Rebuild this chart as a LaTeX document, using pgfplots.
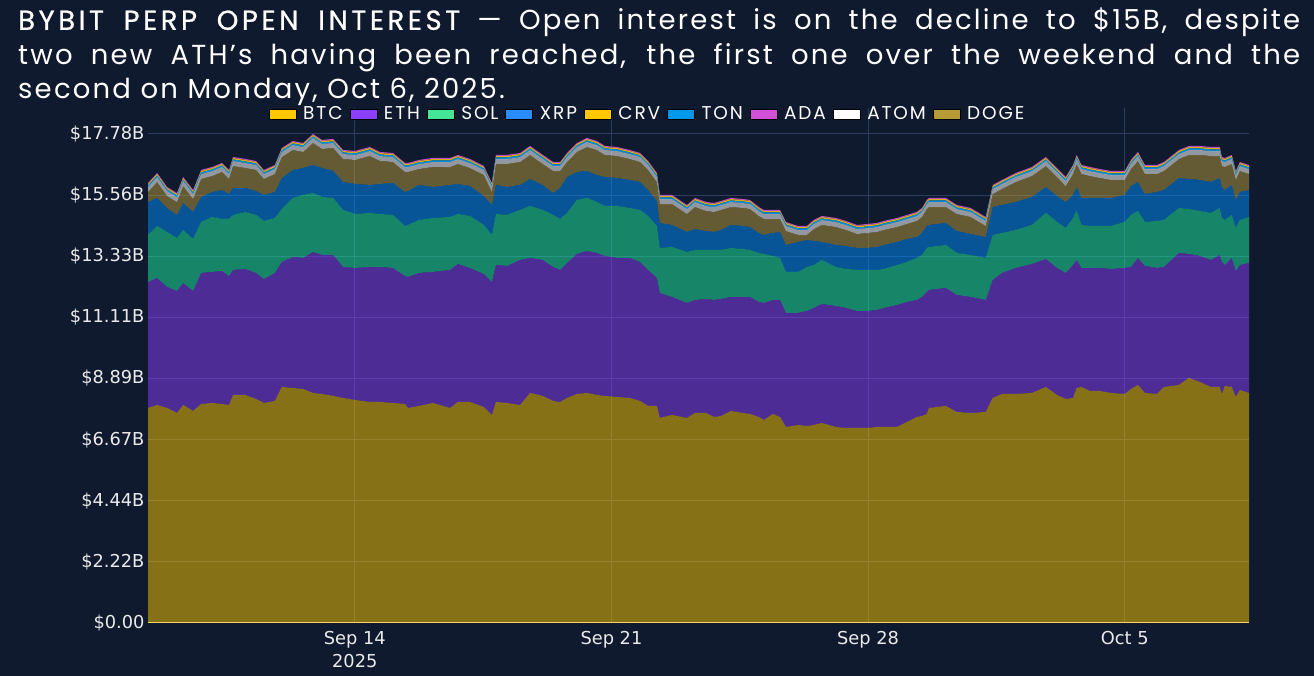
\documentclass[border=0pt]{standalone}
\usepackage{fontspec}
\usepackage{pgfplots}
\usepackage{pgfplotstable}
\pgfplotsset{compat=1.18}
\setmainfont{Poppins}
\newfontfamily\titlefont[LetterSpace=8]{Poppins}
\newfontfamily\headfont[LetterSpace=13,FakeBold=0.8]{Poppins}
\newfontfamily\legfont[LetterSpace=10]{Poppins}
\newfontfamily\tickfont{DejaVu Sans}
\definecolor{bg}{HTML}{0F1A2E}
\definecolor{gridc}{HTML}{2C3D60}
\definecolor{tickc}{HTML}{EAEAEA}
\definecolor{zeroc}{HTML}{EDE8CC}
\definecolor{btcc}{HTML}{FFC800}
\definecolor{ethc}{HTML}{8A3FFC}
\definecolor{ethf}{HTML}{8D3EFF}
\definecolor{solc}{HTML}{45E695}
\definecolor{solf}{HTML}{1FF0A0}
\definecolor{xrpc}{HTML}{2A8CFF}
\definecolor{xrpf}{HTML}{0090FF}
\definecolor{crvc}{HTML}{FFC800}
\definecolor{tonc}{HTML}{0098EA}
\definecolor{adac}{HTML}{D050D8}
\definecolor{atomc}{HTML}{FFFFFF}
\definecolor{dogec}{HTML}{B59A35}
\definecolor{dogef}{HTML}{B99A3A}

\pgfplotstableread{
x btc eth sol xrp doge atom ton crv ada
8.36 7.818 4.582 1.709 1.200 0.361 0.18 0.06 0.05 0.04
8.61 7.927 4.618 1.891 1.018 0.579 0.18 0.06 0.05 0.04
8.88 7.818 4.400 2.000 0.873 0.434 0.18 0.06 0.05 0.04
9.15 7.636 4.436 1.927 0.836 0.470 0.18 0.06 0.05 0.04
9.32 7.927 4.436 1.927 0.982 0.615 0.18 0.06 0.05 0.04
9.59 7.709 4.364 1.891 0.982 0.470 0.18 0.06 0.05 0.04
9.81 7.964 4.764 1.855 0.909 0.652 0.18 0.06 0.05 0.04
10.11 8.000 4.764 2.000 0.909 0.579 0.18 0.06 0.05 0.04
10.38 7.964 4.836 1.891 1.055 0.652 0.18 0.06 0.05 0.04
10.57 7.927 4.691 2.073 0.909 0.543 0.18 0.06 0.05 0.04
10.68 8.291 4.545 2.000 0.982 0.797 0.18 0.06 0.05 0.04
11.01 8.291 4.582 2.073 0.873 0.725 0.18 0.06 0.05 0.04
11.31 8.145 4.582 2.109 0.873 0.761 0.18 0.06 0.05 0.04
11.52 8.000 4.509 2.109 0.945 0.579 0.18 0.06 0.05 0.04
11.82 8.073 4.655 2.000 0.945 0.652 0.18 0.06 0.05 0.04
12.01 8.582 4.545 1.927 1.127 0.761 0.18 0.06 0.05 0.04
12.31 8.545 4.764 2.145 1.018 0.725 0.18 0.06 0.05 0.04
12.59 8.509 4.764 2.291 0.982 0.579 0.18 0.06 0.05 0.04
12.86 8.364 5.127 2.145 1.018 0.797 0.18 0.06 0.05 0.04
13.11 8.327 5.055 2.109 1.055 0.688 0.18 0.06 0.05 0.04
13.41 8.255 5.127 2.073 0.982 0.834 0.18 0.06 0.05 0.04
13.68 8.182 4.764 2.073 1.018 0.834 0.18 0.06 0.05 0.04
14.01 8.109 4.800 1.964 1.091 0.870 0.18 0.06 0.05 0.04
14.41 8.036 4.909 1.964 1.018 1.052 0.18 0.06 0.05 0.04
14.69 8.036 4.909 1.927 1.091 0.834 0.18 0.06 0.05 0.04
15.04 8.000 4.909 1.927 1.164 0.761 0.18 0.06 0.05 0.04
15.37 7.964 4.655 1.818 1.236 0.725 0.18 0.06 0.05 0.04
15.45 7.818 4.764 1.891 1.236 0.688 0.18 0.06 0.05 0.04
15.75 7.891 4.836 1.927 1.273 0.579 0.18 0.06 0.05 0.04
16.13 8.000 4.764 1.964 1.127 0.725 0.18 0.06 0.05 0.04
16.60 7.818 5.018 1.927 1.164 0.652 0.18 0.06 0.05 0.04
16.81 8.036 5.018 1.818 1.091 0.725 0.18 0.06 0.05 0.04
17.14 8.036 4.873 1.891 1.091 0.652 0.18 0.06 0.05 0.04
17.52 7.855 4.836 1.782 1.055 0.761 0.18 0.06 0.05 0.04
17.74 7.564 4.836 1.709 1.091 0.470 0.18 0.06 0.05 0.04
17.85 8.036 4.982 1.855 1.055 0.761 0.18 0.06 0.05 0.04
18.15 8.000 4.982 1.855 1.018 0.834 0.18 0.06 0.05 0.04
18.51 7.927 5.273 1.818 0.909 0.834 0.18 0.06 0.05 0.04
18.78 8.364 4.909 1.891 0.982 0.870 0.18 0.06 0.05 0.04
19.13 8.255 4.945 1.818 0.909 0.761 0.18 0.06 0.05 0.04
19.41 8.073 4.873 1.891 0.800 0.797 0.18 0.06 0.05 0.04
19.60 8.036 4.800 1.855 1.127 0.615 0.18 0.06 0.05 0.04
19.79 8.182 4.909 1.818 1.309 0.543 0.18 0.06 0.05 0.04
20.06 8.327 5.091 1.964 1.018 0.725 0.18 0.06 0.05 0.04
20.33 8.364 5.164 1.927 0.982 0.870 0.18 0.06 0.05 0.04
20.60 8.291 5.164 1.855 0.982 0.906 0.18 0.06 0.05 0.04
20.82 8.255 5.091 1.818 1.055 0.797 0.18 0.06 0.05 0.04
21.15 8.218 5.055 1.891 1.018 0.797 0.18 0.06 0.05 0.04
21.50 8.182 5.091 1.818 1.018 0.761 0.18 0.06 0.05 0.04
21.78 8.073 5.055 1.891 1.018 0.725 0.18 0.06 0.05 0.04
22.00 7.891 4.945 1.964 0.945 0.725 0.18 0.06 0.05 0.04
22.24 7.891 4.655 1.891 0.909 0.688 0.18 0.06 0.05 0.04
22.32 7.455 4.545 1.636 0.909 0.688 0.18 0.06 0.05 0.04
22.65 7.564 4.291 1.818 0.800 0.761 0.18 0.06 0.05 0.04
23.06 7.455 4.182 1.855 0.727 0.652 0.18 0.06 0.05 0.04
23.28 7.636 4.109 1.818 0.764 0.797 0.18 0.06 0.05 0.04
23.58 7.636 4.145 1.782 0.691 0.725 0.18 0.06 0.05 0.04
23.80 7.491 4.255 1.818 0.655 0.725 0.18 0.06 0.05 0.04
23.99 7.527 4.255 1.782 0.727 0.725 0.18 0.06 0.05 0.04
24.26 7.709 4.145 1.782 0.836 0.652 0.18 0.06 0.05 0.04
24.59 7.636 4.218 1.745 0.836 0.652 0.18 0.06 0.05 0.04
24.78 7.600 4.255 1.709 0.836 0.652 0.18 0.06 0.05 0.04
25.02 7.491 4.182 1.782 0.727 0.615 0.18 0.06 0.05 0.04
25.16 7.382 4.255 1.782 0.691 0.579 0.18 0.06 0.05 0.04
25.40 7.600 4.145 1.600 0.836 0.506 0.18 0.06 0.05 0.04
25.60 7.491 4.255 1.527 0.945 0.470 0.18 0.06 0.05 0.04
25.76 7.127 4.145 1.491 0.982 0.506 0.18 0.06 0.05 0.04
26.09 7.200 4.073 1.491 1.091 0.252 0.18 0.06 0.05 0.04
26.33 7.164 4.182 1.600 0.982 0.179 0.18 0.06 0.05 0.04
26.52 7.200 4.255 1.564 0.873 0.434 0.18 0.06 0.05 0.04
26.74 7.273 4.327 1.600 0.655 0.615 0.18 0.06 0.05 0.04
27.12 7.127 4.400 1.418 0.800 0.652 0.18 0.06 0.05 0.04
27.40 7.091 4.364 1.418 0.836 0.579 0.18 0.06 0.05 0.04
27.70 7.091 4.255 1.491 0.800 0.506 0.18 0.06 0.05 0.04
27.99 7.091 4.255 1.491 0.800 0.543 0.18 0.06 0.05 0.04
28.24 7.127 4.255 1.455 0.836 0.543 0.18 0.06 0.05 0.04
28.43 7.127 4.327 1.418 0.873 0.543 0.18 0.06 0.05 0.04
28.79 7.127 4.436 1.455 0.836 0.543 0.18 0.06 0.05 0.04
29.06 7.309 4.364 1.455 0.836 0.543 0.18 0.06 0.05 0.04
29.33 7.491 4.255 1.527 0.764 0.579 0.18 0.06 0.05 0.04
29.47 7.527 4.327 1.527 0.800 0.579 0.18 0.06 0.05 0.04
29.60 7.600 4.436 1.600 0.800 0.615 0.18 0.06 0.05 0.04
29.66 7.818 4.291 1.564 0.800 0.652 0.18 0.06 0.05 0.04
30.12 7.891 4.291 1.564 0.800 0.579 0.18 0.06 0.05 0.04
30.42 7.673 4.255 1.527 0.800 0.615 0.18 0.06 0.05 0.04
30.80 7.636 4.218 1.527 0.764 0.615 0.18 0.06 0.05 0.04
31.21 7.673 4.073 1.527 0.764 0.397 0.18 0.06 0.05 0.04
31.40 8.182 4.291 1.636 1.018 0.470 0.18 0.06 0.05 0.04
31.65 8.327 4.400 1.455 1.018 0.579 0.18 0.06 0.05 0.04
32.03 8.327 4.582 1.382 1.018 0.725 0.18 0.06 0.05 0.04
32.47 8.364 4.691 1.418 1.018 0.761 0.18 0.06 0.05 0.04
32.85 8.582 4.655 1.673 0.945 0.761 0.18 0.06 0.05 0.04
33.15 8.291 4.618 1.673 0.945 0.688 0.18 0.06 0.05 0.04
33.39 8.145 4.582 1.636 0.945 0.579 0.18 0.06 0.05 0.04
33.59 8.182 4.836 1.709 0.836 0.761 0.18 0.06 0.05 0.04
33.69 8.545 4.655 1.782 0.873 0.834 0.18 0.06 0.05 0.04
33.82 8.582 4.327 1.564 0.982 0.870 0.18 0.06 0.05 0.04
34.05 8.436 4.473 1.527 1.018 0.797 0.18 0.06 0.05 0.04
34.32 8.436 4.473 1.527 1.018 0.725 0.18 0.06 0.05 0.04
34.62 8.364 4.509 1.564 1.018 0.652 0.18 0.06 0.05 0.04
35.00 8.327 4.582 1.673 0.982 0.543 0.18 0.06 0.05 0.04
35.17 8.509 4.436 1.891 1.055 0.615 0.18 0.06 0.05 0.04
35.36 8.655 4.618 1.709 1.055 0.761 0.18 0.06 0.05 0.04
35.55 8.364 4.618 1.600 1.018 0.725 0.18 0.06 0.05 0.04
35.88 8.327 4.582 1.709 1.055 0.652 0.18 0.06 0.05 0.04
36.07 8.582 4.364 1.709 1.091 0.688 0.18 0.06 0.05 0.04
36.48 8.655 4.800 1.636 1.091 0.688 0.18 0.06 0.05 0.04
36.75 8.909 4.509 1.636 1.091 0.870 0.18 0.06 0.05 0.04
37.05 8.764 4.582 1.636 1.127 0.906 0.18 0.06 0.05 0.04
37.35 8.582 4.618 1.709 1.127 0.943 0.18 0.06 0.05 0.04
37.59 8.582 4.800 1.709 1.091 0.797 0.18 0.06 0.05 0.04
37.65 8.327 4.800 1.600 1.127 0.761 0.18 0.06 0.05 0.04
37.73 8.618 4.400 1.636 1.091 0.834 0.18 0.06 0.05 0.04
37.92 8.582 4.691 1.564 1.091 0.761 0.18 0.06 0.05 0.04
38.03 8.218 4.582 1.564 1.018 0.725 0.18 0.06 0.05 0.04
38.14 8.473 4.545 1.636 1.018 0.761 0.18 0.06 0.05 0.04
38.39 8.364 4.727 1.673 0.982 0.579 0.18 0.06 0.05 0.04
}\oitable

\begin{document}
\begin{tikzpicture}
\useasboundingbox (0,0) rectangle (1314pt,676pt);
\fill[bg] (0,0) rectangle (1314pt,676pt);
\node[anchor=north west, inner sep=0pt, text width=1282pt, align=justify, text=white,
      font=\titlefont\fontsize{27.5}{34.2}\selectfont] at (18pt,668pt)
  {{\headfont BYBIT PERP OPEN INTEREST} — Open interest is on the decline to \$15B, despite\linebreak
   two new ATH’s having been reached, the first one over the weekend and the\linebreak
   second on Monday, Oct 6, 2025.};
\begin{axis}[
  at={(148pt,53pt)}, anchor=south west, scale only axis,
  width=1101pt, height=515pt,
  xmin=8.36, xmax=38.39, ymin=0, ymax=18.725,
  stack plots=y,
  axis line style={draw=none},
  major tick length=0pt,
  grid=major, major grid style={color=gridc, line width=1pt},
  xtick={14,21,28,35},
  xticklabels={{Sep 14\\2025},{Sep 21},{Sep 28},{Oct 5}},
  x tick label style={align=center, text=tickc, yshift=-5pt, font=\tickfont\fontsize{17.8}{23}\selectfont},
  ytick={0,2.2225,4.445,6.6675,8.89,11.1125,13.335,15.5575,17.78},
  yticklabels={\$0.00,\$2.22B,\$4.44B,\$6.67B,\$8.89B,\$11.11B,\$13.33B,\$15.56B,\$17.78B},
  y tick label style={text=tickc, font=\tickfont\fontsize{17.8}{20}\selectfont},
  legend columns=9,
  legend image code/.code={\fill[#1] (0pt,-5pt) rectangle (27pt,5pt);},
  legend style={at={(0.4528,0.988)}, anchor=center, draw=none, fill=none, text=white,
    font=\legfont\fontsize{18.5}{20}\selectfont,
    /tikz/every odd column/.append style={column sep=7pt},
    /tikz/every even column/.append style={column sep=7pt},
    nodes={inner xsep=0pt, inner ysep=0pt}},
]
\addplot[draw=none, fill=btcc, fill opacity=0.5, forget plot] table[x=x,y=btc]{\oitable} \closedcycle;
\addplot[draw=none, fill=ethf, fill opacity=0.5, forget plot] table[x=x,y=eth]{\oitable} \closedcycle;
\addplot[draw=none, fill=solf, fill opacity=0.5, forget plot] table[x=x,y=sol]{\oitable} \closedcycle;
\addplot[draw=none, fill=xrpf, fill opacity=0.5, forget plot] table[x=x,y=xrp]{\oitable} \closedcycle;
\addplot[draw=none, fill=dogef, fill opacity=0.5, forget plot] table[x=x,y=doge]{\oitable} \closedcycle;
\addplot[draw=none, fill=atomc, fill opacity=0.55, forget plot] table[x=x,y=atom]{\oitable} \closedcycle;
\addplot[draw=none, fill=tonc, fill opacity=0.9, forget plot] table[x=x,y=ton]{\oitable} \closedcycle;
\addplot[draw=none, fill=crvc, fill opacity=0.85, forget plot] table[x=x,y=crv]{\oitable} \closedcycle;
\addplot[draw=none, fill=adac, fill opacity=0.9, forget plot] table[x=x,y=ada]{\oitable} \closedcycle;
\addlegendimage{fill=btcc}\addlegendentry{BTC}
\addlegendimage{fill=ethc}\addlegendentry{ETH}
\addlegendimage{fill=solc}\addlegendentry{SOL}
\addlegendimage{fill=xrpc}\addlegendentry{XRP}
\addlegendimage{fill=crvc}\addlegendentry{CRV}
\addlegendimage{fill=tonc}\addlegendentry{TON}
\addlegendimage{fill=adac}\addlegendentry{ADA}
\addlegendimage{fill=atomc}\addlegendentry{ATOM}
\addlegendimage{fill=dogec}\addlegendentry{DOGE}
\draw[zeroc, line width=1.5pt] (rel axis cs:0,0) -- (rel axis cs:1,0);
\end{axis}
\end{tikzpicture}
\end{document}
